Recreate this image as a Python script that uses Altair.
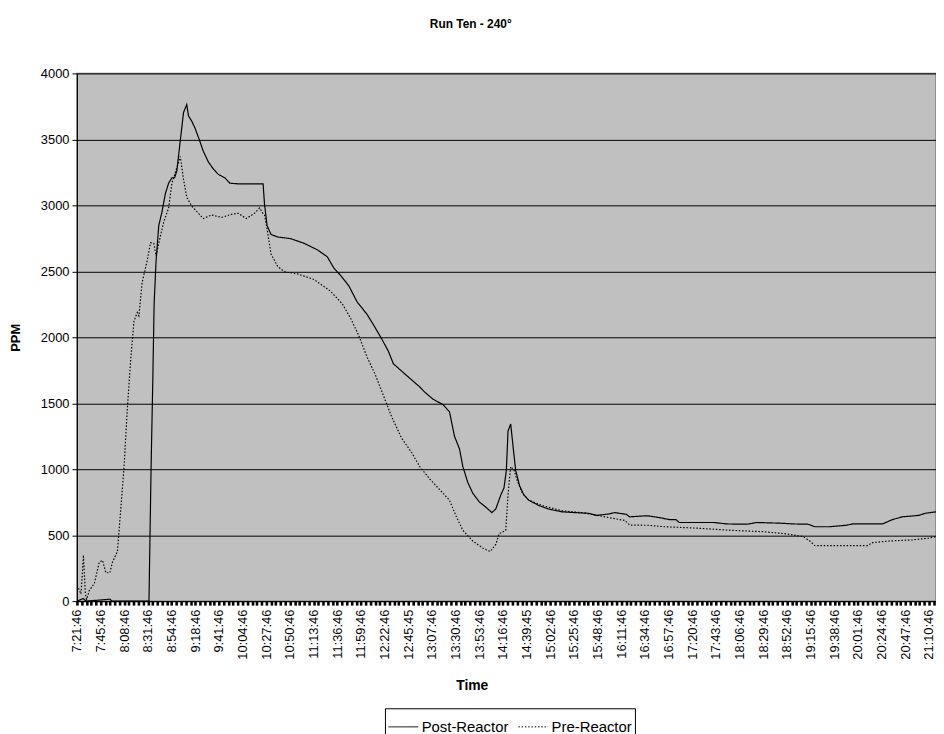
import json
import altair as alt
import pandas as pd

# Tick labels (every 23rd sample)
time_labels = ["7:21:46", "7:45:46", "8:08:46", "8:31:46", "8:54:46", "9:18:46", "9:41:46",
               "10:04:46", "10:27:46", "10:50:46", "11:13:46", "11:36:46", "11:59:46",
               "12:22:46", "12:45:45", "13:07:46", "13:30:46", "13:53:46", "14:16:46",
               "14:39:45", "15:02:46", "15:25:46", "15:48:46", "16:11:46", "16:34:46",
               "16:57:46", "17:20:46", "17:43:46", "18:06:46", "18:29:46", "18:52:46",
               "19:15:46", "19:38:46", "20:01:46", "20:24:46", "20:47:46", "21:10:46"]

# Post-Reactor: sample index, ppm
post_s = [0, 6, 9, 32, 34, 70, 72, 73.7, 75.0, 76.9, 79.5, 82.7, 85.9, 89.1, 92.3, 94.9, 97.1,
          100.4, 103.6, 106.7, 108.4, 111.6, 114.8, 118.0, 122.8, 127.7, 132.5, 137.3, 143.7,
          148.6, 156.6, 169.4, 180.9, 182.3, 184.8, 188.6, 195.1, 207.9, 220.8, 233.6, 243.3,
          249.7, 256.1, 264.2, 272.2, 281.8, 288.2, 296.2, 302.7, 307.5, 317.2, 325.1, 333.1,
          338.0, 346.1, 355.7, 362.0, 366.9, 371.7, 375.0, 379.8, 384.6, 391.0, 397.4, 403.2,
          407.0, 411.9, 415.0, 417.3, 418.9, 421.5, 423.7, 426.3, 430.2, 434.3, 439.1, 448.8,
          458.4, 471.3, 484.1, 496.9, 505.0, 516.2, 522.6, 533.9, 537.1, 546.7, 554.7, 567.6,
          575.6, 582.1, 585.3, 606.2, 619.0, 631.8, 651.1, 660.7, 683.2, 696.1, 710.5, 717.0,
          731.4, 747.4, 753.9, 782.8, 792.4, 802.1, 818.1, 824.5, 834.8]
post_v = [0, 20, 0, 15, 0, 0, 993, 1665, 2255, 2578, 2846, 2953, 3088, 3168, 3209, 3209, 3262,
          3490, 3705, 3764, 3678, 3638, 3584, 3517, 3410, 3329, 3276, 3235, 3209,
          3168, 3163, 3163, 3163, 3007, 2846, 2779, 2760, 2747, 2712, 2663, 2610,
          2524, 2470, 2390, 2269, 2175, 2094, 1987, 1893, 1799, 1732, 1678, 1624,
          1584, 1530, 1490, 1436, 1249, 1155, 1020, 900, 819, 752, 712, 671,
          698, 805, 859, 993, 1289, 1343, 1181, 993, 873, 805, 765, 725,
          698, 677, 671, 666, 650, 660, 671, 658, 639, 644, 647, 631,
          618, 618, 596, 596, 596, 585, 583, 596, 591, 585, 583, 564,
          564, 575, 585, 585, 618, 639, 650, 666, 677]

# Pre-Reactor: sample index, ppm
pre_s = [0, 1.7, 4.0, 6.3, 8.2, 9.4, 12.0, 16.9, 21.7, 24.9, 28.1, 32.0, 34.5, 39.3, 42.6, 45.8,
         48.9, 52.2, 55.4, 58.6, 60.2, 63.4, 68.2, 71.5, 74.7, 76.9, 79.5, 84.3, 89.1, 92.3,
         95.6, 100.4, 103.6, 106.7, 111.6, 118.0, 122.8, 130.8, 140.5, 150.1, 156.6, 164.6,
         172.6, 177.5, 180.6, 182.3, 184.8, 188.6, 195.1, 201.5, 214.4, 230.4, 246.4, 257.7,
         265.7, 273.8, 281.8, 289.8, 297.9, 305.9, 315.5, 325.1, 333.1, 342.8, 352.4, 362.0,
         368.5, 375.0, 384.6, 394.2, 401.5, 407.0, 410.2, 416.7, 418.9, 421.5, 424.7, 427.9,
         432.8, 439.1, 452.0, 471.3, 490.6, 509.8, 522.6, 532.3, 537.1, 554.7, 570.8, 602.9,
         635.1, 667.2, 689.6, 705.7, 712.2, 717.0, 747.4, 768.3, 773.1, 789.2, 811.7, 827.8,
         834.8]
pre_v = [120, 94, 54, 349, 54, 13, 80, 134, 295, 309, 215, 215, 295, 376, 698, 1020,
         1450, 1826, 2121, 2188, 2162, 2417, 2578, 2717, 2712, 2618, 2712, 2873, 2980, 3168,
         3249, 3370, 3195, 3061, 2994, 2940, 2900, 2927, 2908, 2932, 2940, 2900,
         2940, 2980, 2940, 2927, 2819, 2631, 2537, 2497, 2480, 2438, 2349, 2255,
         2148, 2014, 1853, 1718, 1557, 1396, 1235, 1128, 1020, 926, 846, 765,
         644, 537, 456, 403, 376, 430, 510, 537, 805, 1020, 993, 913,
         819, 765, 725, 685, 671, 644, 625, 612, 577, 575, 564, 553,
         537, 526, 510, 489, 456, 421, 421, 421, 443, 456, 464, 478,
         489]

series_names = ["Post-Reactor", "Pre-Reactor"]

df = pd.concat([
    pd.DataFrame({"s": post_s, "ppm": post_v, "series": series_names[0], "o": range(len(post_s))}),
    pd.DataFrame({"s": pre_s, "ppm": pre_v, "series": series_names[1], "o": range(len(pre_s))}),
])

FONT = "Liberation Sans"
tick_values = [round(i * 4.6, 4) for i in range(182)]
label_expr = ("datum.value % 23 === 0 ? " + json.dumps(time_labels) +
              "[round(datum.value / 23)] : ''")

chart = alt.Chart(df).mark_line(color="black", strokeWidth=1.2, clip=True).encode(
    x=alt.X("s:Q",
            scale=alt.Scale(domain=[0, 834.8], nice=False, zero=False),
            axis=alt.Axis(values=tick_values, labelExpr=label_expr, labelAngle=270,
                          labelAlign="right", labelBaseline="middle", labelPadding=4,
                          labelOverlap=False, labelBound=False, labelFlush=False,
                          labelFont=FONT, labelFontSize=13, labelColor="black",
                          tickSize=4, tickWidth=2.6, tickColor="black",
                          domainColor="black", domainWidth=1, grid=False,
                          title="Time", titleFont=FONT, titleFontSize=14,
                          titleFontWeight="bold", titleColor="black",
                          titleX=398, titleY=85, titleBaseline="middle",
                          titleAnchor="start", titleAlign="center")),
    y=alt.Y("ppm:Q",
            scale=alt.Scale(domain=[0, 4000], nice=False),
            axis=alt.Axis(values=list(range(0, 4001, 500)), format="d", labelFont=FONT,
                          labelFontSize=13, labelColor="black", labelPadding=3, tickSize=5,
                          tickColor="black", domainColor="black", grid=True,
                          gridColor="black", gridWidth=1,
                          title="PPM", titleFont=FONT, titleFontSize=13,
                          titleFontWeight="bold", titleColor="black",
                          titleX=-62, titleY=266, titleAngle=270,
                          titleAlign="center", titleBaseline="middle")),
    strokeDash=alt.StrokeDash("series:N",
                              scale=alt.Scale(domain=series_names, range=[[1, 0], [1.5, 1.8]]),
                              legend=alt.Legend(title=None, orient="none", direction="horizontal",
                                                legendX=310.5, legendY=640,
                                                symbolType="M-1,0H1", symbolSize=900,
                                                symbolStrokeColor="black", symbolStrokeWidth=1,
                                                labelFont=FONT, labelFontSize=15,
                                                labelColor="black", labelOffset=3,
                                                columnPadding=7, padding=3,
                                                strokeColor="black", fillColor="white")),
    order="o:Q",
    detail="series:N",
).properties(
    width=866,
    height=532,
    title=alt.TitleParams("Run Ten - 240°", font=FONT, fontSize=12, fontWeight="bold",
                          color="black", anchor="middle", dx=-36, offset=37),
    autosize=alt.AutoSizeParams(type="none"),
    padding={"left": 69.5, "top": 63, "right": 0, "bottom": 131},
).configure(
    background="white"
).configure_view(
    fill="#C0C0C0", stroke="#808080", strokeWidth=1.5
)

chart.save("out.html", embed_options={"renderer": "svg", "actions": False})
